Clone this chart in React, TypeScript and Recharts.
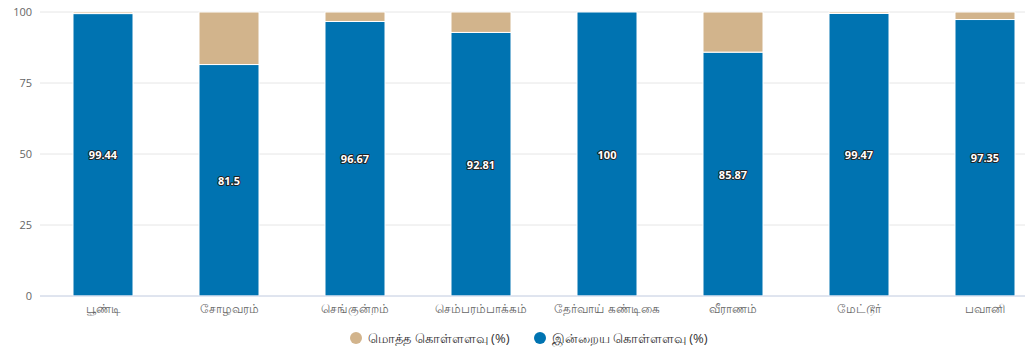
import { BarChart, Bar, XAxis, YAxis, CartesianGrid, Legend, LabelList } from 'recharts';

const lakes = ['பூண்டி', 'சோழவரம்', 'செங்குன்றம்', 'செம்பரம்பாக்கம்', 'தேர்வாய் கண்டிகை', 'வீராணம்', 'மேட்டூர்', 'பவானி'];
const todayLevel = [99.44, 81.5, 96.67, 92.81, 100, 85.87, 99.47, 97.35];
const remaining = [0.56, 18.5, 3.33, 7.19, 0, 14.13, 0.53, 2.65];
const yTicks = [0, 25, 50, 75, 100];

const TOTAL_NAME = 'மொத்த கொள்ளளவு (%)';
const TODAY_NAME = 'இன்றைய கொள்ளளவு (%)';
const BLUE = '#0073b1';
const TAN = '#d2b48c';
const FONT = '"Open Sans", "Noto Sans", sans-serif';

const data = lakes.map((name, i) => ({ name, today: todayLevel[i], rest: remaining[i] }));

function ValueLabel(props: any) {
  const { x, y, width, height, value } = props;
  return (
    <text
      x={x + width / 2}
      y={y + height / 2}
      textAnchor="middle"
      dominantBaseline="central"
      fontSize={11}
      fontWeight="bold"
      fontFamily={FONT}
      fill="#fff"
      stroke="#222"
      strokeWidth={2}
      strokeLinejoin="round"
      paintOrder="stroke"
    >
      {value}
    </text>
  );
}

function LegendBox() {
  const items = [
    { name: TOTAL_NAME, color: TAN },
    { name: TODAY_NAME, color: BLUE },
  ];
  return (
    <div style={{ height: 38, display: 'flex', justifyContent: 'center', paddingTop: 4, paddingLeft: 10, boxSizing: 'border-box' }}>
      {items.map((it) => (
        <div key={it.name} style={{ display: 'flex', alignItems: 'center', height: 16, margin: '0 12px', fontFamily: FONT, fontSize: 13, color: '#333' }}>
          <span style={{ width: 12, height: 12, borderRadius: 6, background: it.color, marginRight: 6, display: 'inline-block' }} />
          {it.name}
        </div>
      ))}
    </div>
  );
}

export default function App() {
  return (
    <div style={{ position: 'absolute', left: 0, top: 0, width: 1025, height: 364, overflow: 'hidden', background: '#fff' }}>
      <BarChart width={1056} height={364} data={data} margin={{ top: 12, right: 8, bottom: 0, left: 0 }} barSize={60}>
        <CartesianGrid vertical={false} stroke="#e6e6e6" />
        <XAxis
          dataKey="name"
          height={30}
          tickLine={false}
          axisLine={{ stroke: '#ccd6eb' }}
          tick={{ fill: '#666', fontSize: 12, fontFamily: FONT }}
          interval={0}
        />
        <YAxis
          width={40}
          domain={[0, 100]}
          ticks={yTicks}
          tickLine={false}
          axisLine={false}
          tick={{ fill: '#666', fontSize: 11, fontFamily: FONT }}
        />
        <Legend verticalAlign="bottom" content={() => <LegendBox />} />
        <Bar dataKey="today" stackId="a" name={TODAY_NAME} fill={BLUE} stroke="#fff" strokeWidth={1} isAnimationActive={false}>
          <LabelList dataKey="today" content={ValueLabel} />
        </Bar>
        <Bar dataKey="rest" stackId="a" name={TOTAL_NAME} fill={TAN} stroke="#fff" strokeWidth={1} isAnimationActive={false} />
      </BarChart>
    </div>
  );
}
